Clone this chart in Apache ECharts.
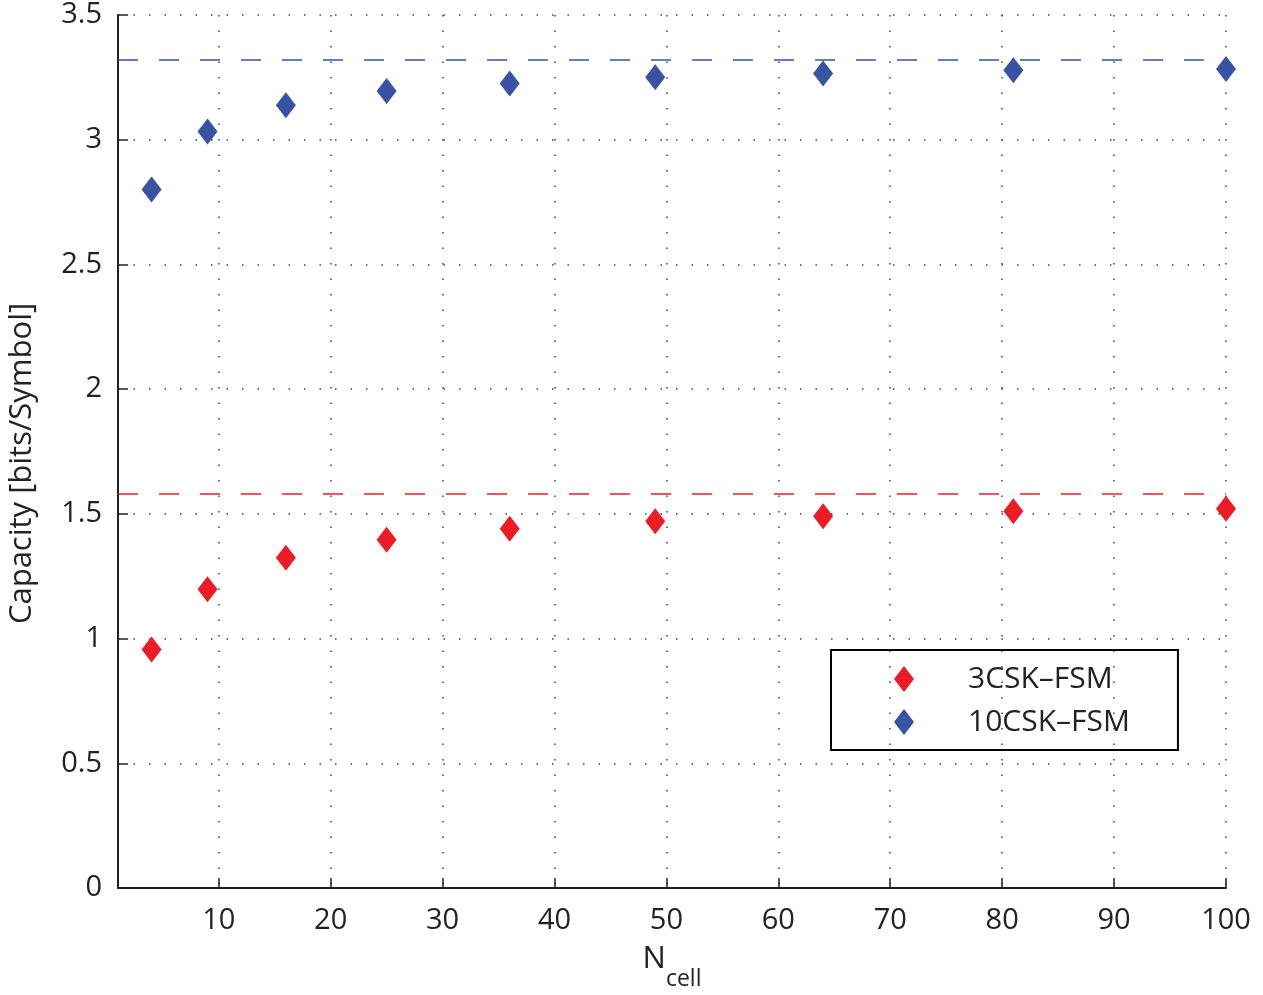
<!DOCTYPE html>
<html><head><meta charset="utf-8">
<script src="https://cdn.jsdelivr.net/npm/echarts@6/dist/echarts.min.js"></script>
<style>html,body{margin:0;padding:0;background:#fff}#c{width:1263px;height:995px}</style>
</head><body><div id="c"></div>
<script>
const nCell = [4, 9, 16, 25, 36, 49, 64, 81, 100];
const cap3 = [0.956, 1.198, 1.324, 1.396, 1.44, 1.47, 1.49, 1.51, 1.52];
const cap10 = [2.80, 3.033, 3.138, 3.195, 3.225, 3.25, 3.265, 3.278, 3.284];
const limit3 = Math.log2(3);
const limit10 = Math.log2(10);
const xTicks = [10, 20, 30, 40, 50, 60, 70, 80, 90, 100];
const names = ['3CSK\u2013FSM', '10CSK\u2013FSM'];
const red = '#ED1C24', blue = '#3953A4';
const font = 'Open Sans';
const ink = '#222';

const chart = echarts.init(document.getElementById('c'));
const gridLine = {show: true, lineStyle: {color: '#444', type: [1.5, 14], width: 1.5}};
chart.setOption({
  animation: false,
  textStyle: {fontFamily: font},
  grid: {left: 118, right: 37, top: 15, bottom: 107, containLabel: false, outerBoundsMode: 'none'},
  legend: {
    left: 831, top: 650, orient: 'vertical',
    data: names,
    itemWidth: 20, itemHeight: 26, itemGap: 13,
    padding: [14, 48, 13, 63],
    borderColor: '#000', borderWidth: 2,
    textStyle: {fontSize: 30, color: ink, fontFamily: font, padding: [0, 0, 0, 49]}
  },
  xAxis: {
    type: 'value', min: 1, max: 100,
    axisLine: {show: true, onZero: false, lineStyle: {color: ink, width: 2}},
    axisTick: {show: true, inside: true, length: 10, customValues: xTicks, lineStyle: {color: ink, width: 1.5}},
    axisLabel: {customValues: xTicks, fontSize: 29, color: ink, margin: 18, fontFamily: font},
    splitLine: gridLine,
    name: '{n|N}{s|cell}', nameLocation: 'middle', nameGap: 40,
    nameTextStyle: {rich: {n: {fontSize: 31, color: ink, fontFamily: font}, s: {fontSize: 23, color: ink, fontFamily: font, padding: [40, 0, 0, 0]}}}
  },
  yAxis: {
    type: 'value', min: 0, max: 3.5, interval: 0.5,
    axisLine: {show: true, onZero: false, lineStyle: {color: ink, width: 2}},
    axisTick: {show: true, inside: true, length: 10, lineStyle: {color: ink, width: 1.5}},
    axisLabel: {fontSize: 29, color: ink, margin: 16, fontFamily: font},
    splitLine: gridLine,
    name: 'Capacity [bits/Symbol]', nameLocation: 'middle', nameGap: 80,
    nameTextStyle: {fontSize: 31, color: ink, fontFamily: font, padding: [0, 24, 0, 0]}
  },
  series: [
    {
      name: names[0], type: 'scatter', symbol: 'diamond', symbolSize: [20, 26],
      itemStyle: {color: red, opacity: 1},
      data: nCell.map((x, i) => [x, cap3[i]]),
      markLine: {silent: true, symbol: 'none', label: {show: false},
        lineStyle: {color: red, type: [20, 21], width: 1.5},
        data: [{yAxis: limit3}]},
      z: 3
    },
    {
      name: names[1], type: 'scatter', symbol: 'diamond', symbolSize: [20, 26],
      itemStyle: {color: blue, opacity: 1},
      data: nCell.map((x, i) => [x, cap10[i]]),
      markLine: {silent: true, symbol: 'none', label: {show: false},
        lineStyle: {color: blue, type: [20, 21], width: 1.5},
        data: [{yAxis: limit10}]},
      z: 3
    }
  ]
});
</script></body></html>
